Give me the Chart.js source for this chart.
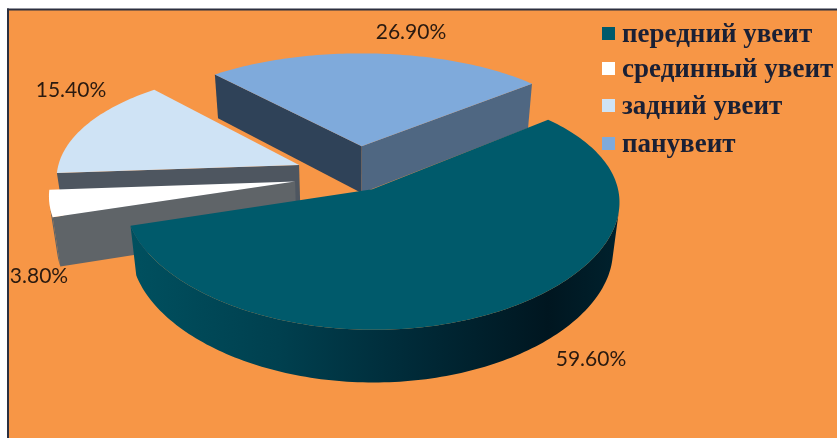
<!DOCTYPE html>
<html lang="ru">
<head>
  <meta charset="UTF-8" />
  <title>Формы увеита</title>
  <script src="https://cdn.jsdelivr.net/npm/chart.js"></script>
  <style>
    body { margin: 0; background: #fff; }
    canvas { display: block; }
  </style>
</head>
<body>
  <canvas id="uveitisChart" width="837" height="438"></canvas>

  <script>
    const categories = ['передний увеит', 'срединный увеит', 'задний увеит', 'панувеит'];
    const shares = [59.6, 3.8, 15.4, 26.9];

    const topColors = ['#005a6b', '#ffffff', '#cfe3f5', '#7faadb'];
    const startFaceColors = ['#003c4b', '#5f6468', '#4e5660', '#2f4258'];
    const endFaceColors = ['#003c4b', '#5f6468', '#4e5660', '#4f6782'];
    const sliceOffsets = [13, 25.8, 26, 27];   // px, read back as 1/100 of a radius

    // where the percentage labels sit, in slice order
    const labelCentres = [[591, 359], [39, 276], [71, 90], [411, 32]];
    const legendRows = [35, 70, 107, 145];

    // ground plane -> screen, nearer things get bigger
    const view = { x: 357, y: 176, ax: 243, by: 115, px: 0.1, py: 0.15, h: 49, q: 0.025 };

    function project(u, v, down) {
      const q = down ? view.q : 0;
      return [
        view.x + view.ax * u / (1 - view.px * v + q),
        view.y + (view.by * v + (down ? view.h : 0)) / (1 - view.py * v + q)
      ];
    }

    function facesViewer(pts) {
      let area = 0;
      pts.forEach((p, i) => {
        const n = pts[(i + 1) % pts.length];
        area += p[0] * n[1] - n[0] * p[1];
      });
      return area < 0;
    }

    function fillPolygon(ctx, pts, fill) {
      ctx.beginPath();
      pts.forEach((p, i) => i ? ctx.lineTo(p[0], p[1]) : ctx.moveTo(p[0], p[1]));
      ctx.closePath();
      ctx.fillStyle = fill;
      ctx.fill();
    }

    function wall(a, b) {
      return [project(a[0], a[1]), project(b[0], b[1]), project(b[0], b[1], true), project(a[0], a[1], true)];
    }

    function drawSlice(ctx, arc, i) {
      const mid = (arc.startAngle + arc.endAngle) / 2;
      const d = arc.options.offset / 100;
      const ox = d * Math.cos(mid), oy = d * Math.sin(mid);
      const steps = Math.ceil((arc.endAngle - arc.startAngle) / 0.02);
      const rim = [];
      for (let s = 0; s <= steps; s++) {
        const a = arc.startAngle + (arc.endAngle - arc.startAngle) * s / steps;
        rim.push([ox + Math.cos(a), oy + Math.sin(a)]);
      }
      const apex = [ox, oy];

      const first = wall(apex, rim[0]);
      if (facesViewer(first)) fillPolygon(ctx, first, startFaceColors[i]);
      const last = wall(rim[steps], apex);
      if (facesViewer(last)) fillPolygon(ctx, last, endFaceColors[i]);

      let rimFill = startFaceColors[i];
      if (i === 0) {
        rimFill = ctx.createLinearGradient(130, 0, 622, 0);
        rimFill.addColorStop(0, '#00505f');
        rimFill.addColorStop(0.3, '#00404f');
        rimFill.addColorStop(0.55, '#002c3a');
        rimFill.addColorStop(0.85, '#001620');
        rimFill.addColorStop(1, '#00222e');
      }

      // outer wall: only the stretch turned towards the viewer, as one polygon
      const upper = [], lower = [];
      for (let s = 0; s < steps; s++) {
        const seg = wall(rim[s], rim[s + 1]);
        if (!facesViewer(seg)) continue;
        if (!upper.length) { upper.push(seg[0]); lower.push(seg[3]); }
        upper.push(seg[1]);
        lower.push(seg[2]);
      }
      if (upper.length) fillPolygon(ctx, upper.concat(lower.reverse()), rimFill);

      const top = [project(apex[0], apex[1])].concat(rim.map(p => project(p[0], p[1])));
      fillPolygon(ctx, top, arc.options.backgroundColor);
    }

    const tiltedPie = {
      id: 'tiltedPie',
      beforeDraw(chart) {
        const ctx = chart.ctx;
        ctx.save();
        ctx.fillStyle = '#f79646';
        ctx.fillRect(8, 9, chart.width, chart.height);
        ctx.fillStyle = '#2c3040';
        ctx.fillRect(7, 8.5, chart.width, 2);
        ctx.fillRect(7, 8.5, 2, chart.height);
        ctx.restore();
      },
      // the arcs are painted here instead of by the flat default
      beforeDatasetDraw(chart, args) {
        const ctx = chart.ctx;
        const order = args.meta.data.map((arc, i) => ({ arc, i }));
        const depth = o => (o.arc.options.offset / 100) * Math.sin((o.arc.startAngle + o.arc.endAngle) / 2);
        order.sort((a, b) => depth(a) - depth(b));
        ctx.save();
        order.forEach(o => drawSlice(ctx, o.arc, o.i));
        ctx.restore();
        return false;
      },
      afterDraw(chart) {
        const ctx = chart.ctx;
        ctx.save();
        ctx.textBaseline = 'middle';

        ctx.font = '21px Lato';
        ctx.fillStyle = '#2a1a10';
        ctx.textAlign = 'center';
        shares.forEach((v, i) => {
          ctx.fillText(v.toFixed(2) + '%', labelCentres[i][0], labelCentres[i][1]);
        });

        ctx.font = 'bold 27px "Liberation Serif"';
        ctx.textAlign = 'left';
        categories.forEach((name, i) => {
          ctx.fillStyle = topColors[i];
          ctx.fillRect(602, legendRows[i] - 8, 13, 13);
          ctx.fillStyle = '#1a2035';
          ctx.fillText(name, 622, legendRows[i]);
        });
        ctx.restore();
      }
    };

    new Chart(document.getElementById('uveitisChart'), {
      type: 'pie',
      data: {
        labels: categories,
        datasets: [{
          data: shares,
          backgroundColor: topColors,
          offset: sliceOffsets,
          borderWidth: 0
        }]
      },
      options: {
        responsive: false,
        animation: false,
        rotation: 50,
        plugins: {
          legend: { display: false },
          tooltip: { enabled: false }
        }
      },
      plugins: [tiltedPie]
    });
  </script>
</body>
</html>
